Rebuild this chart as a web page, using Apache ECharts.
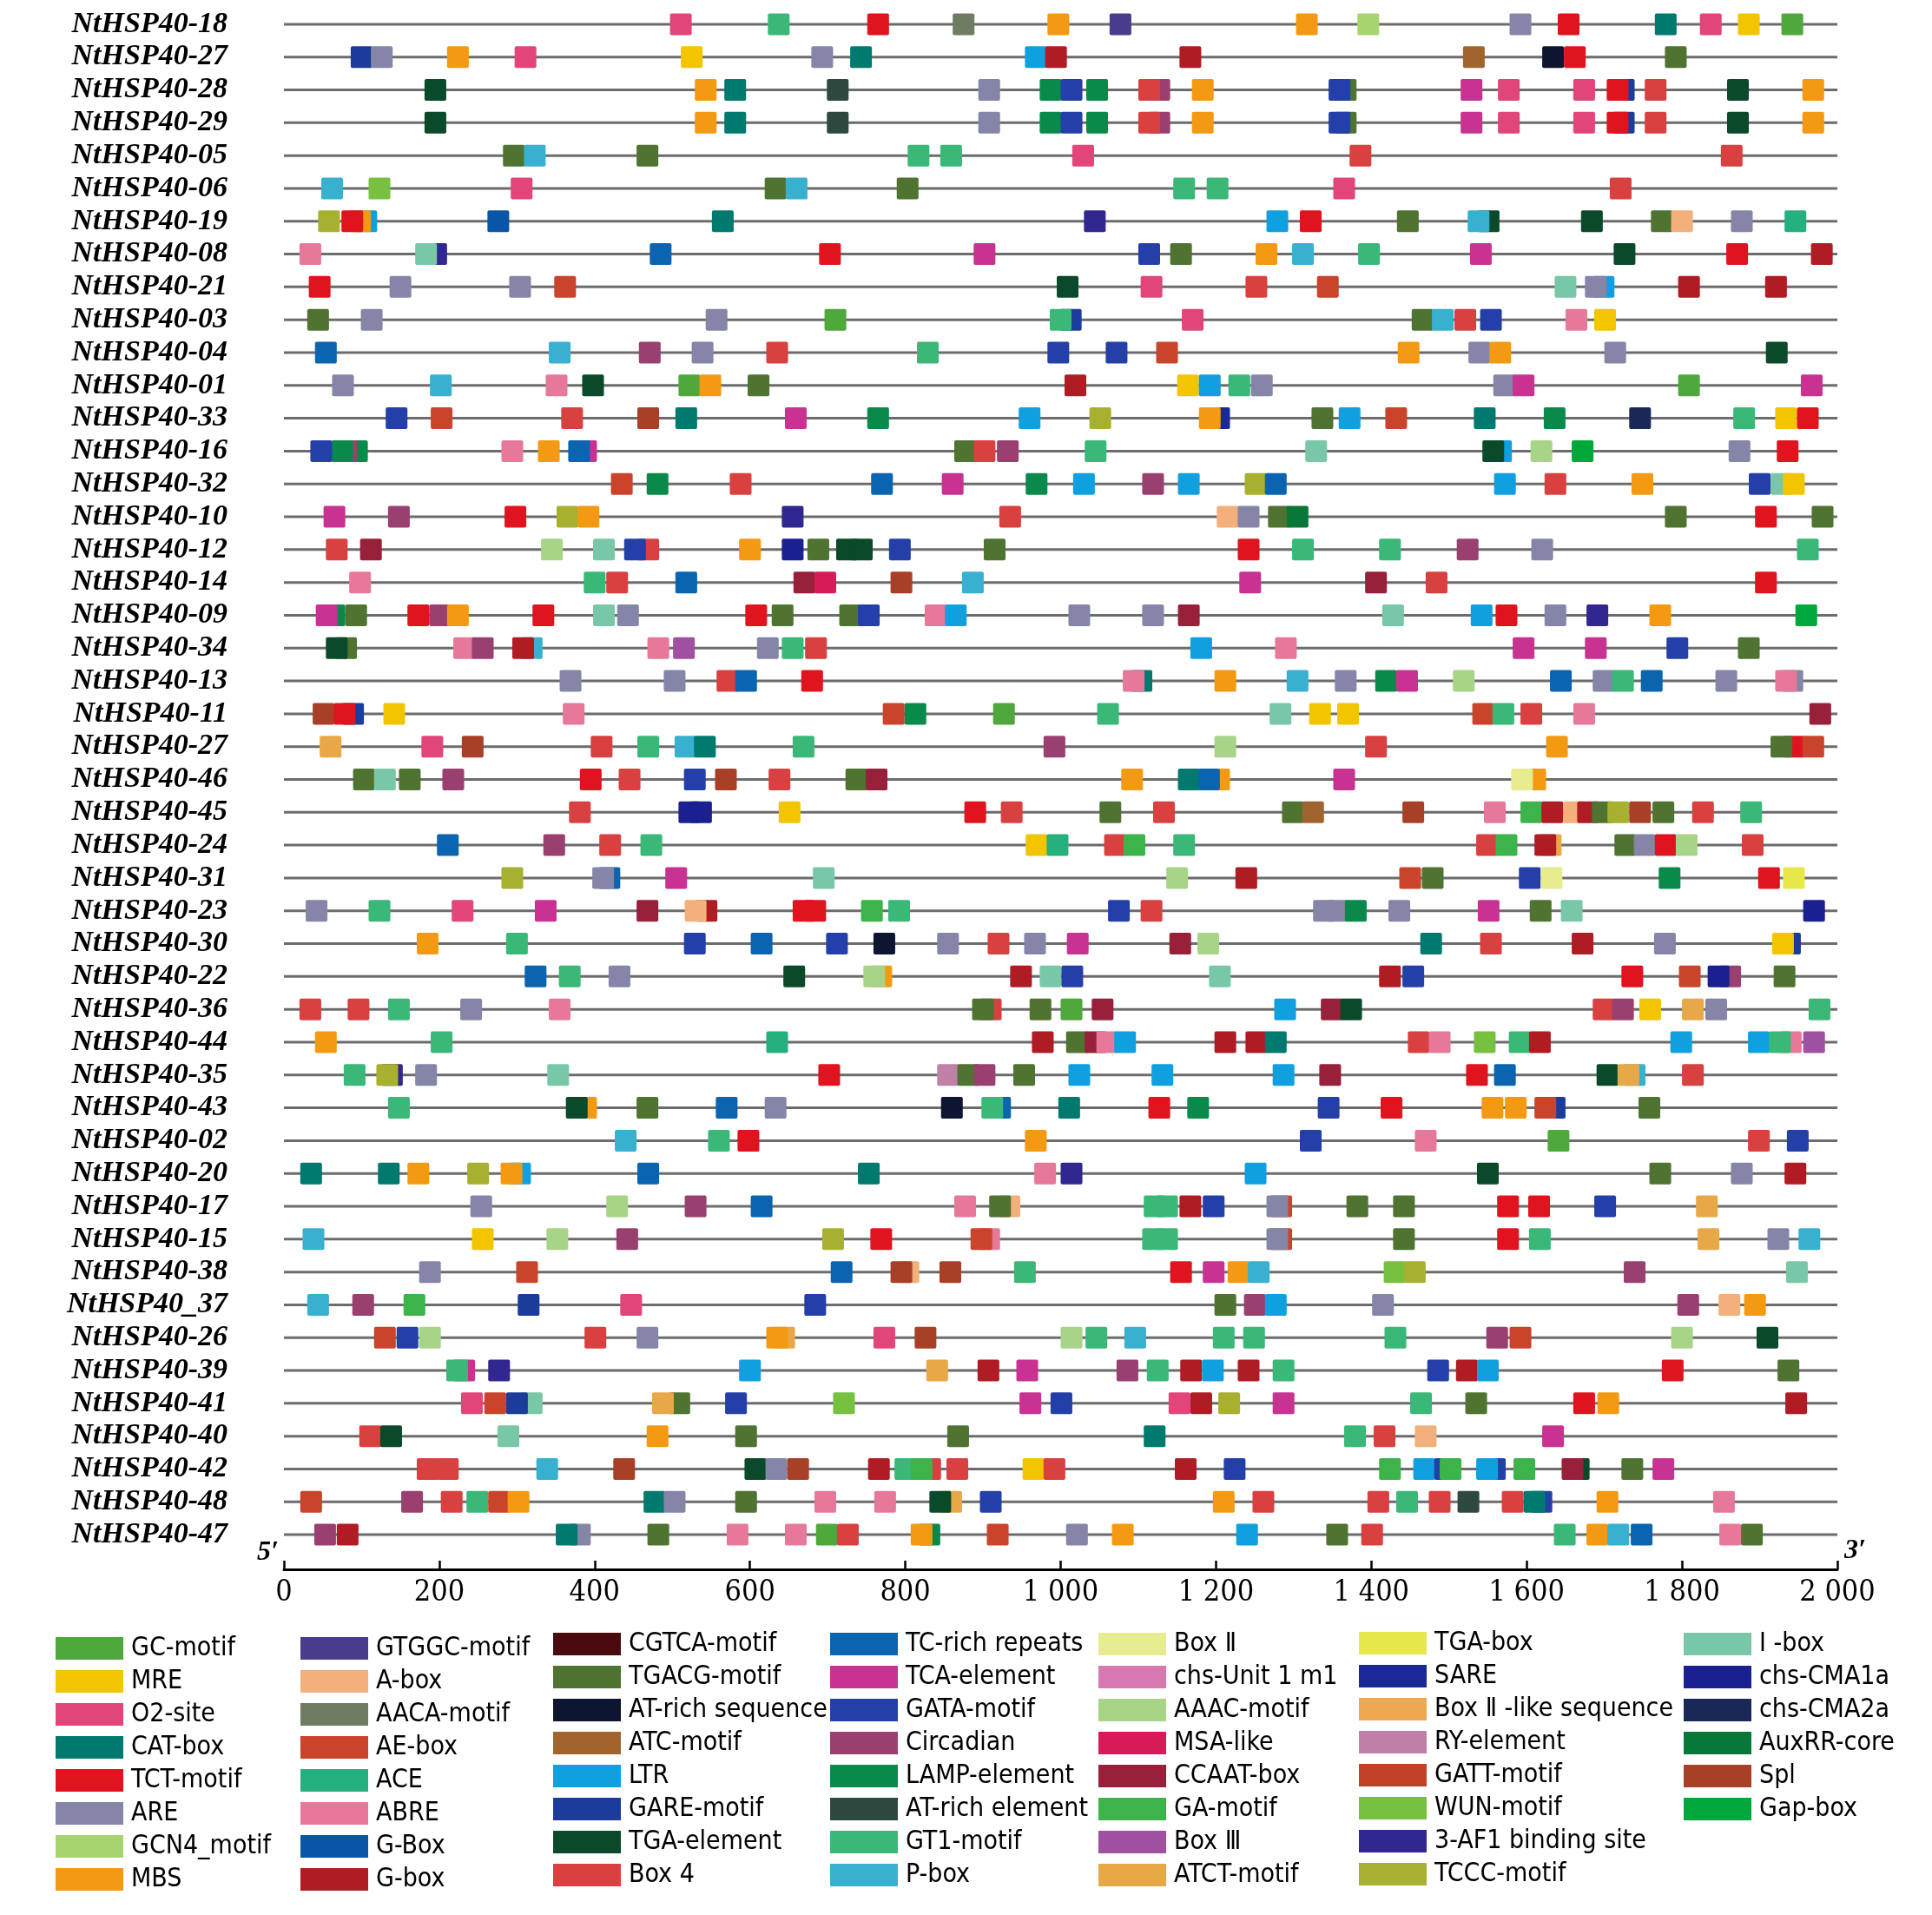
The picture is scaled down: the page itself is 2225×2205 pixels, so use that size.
<!DOCTYPE html>
<html><head><meta charset="utf-8">
<script src="https://cdn.jsdelivr.net/npm/echarts@6/dist/echarts.min.js"></script>
<style>html,body{margin:0;padding:0;background:#fff}#c{width:2225px;height:2205px}</style>
</head><body><div id="c"></div>
<script>
// ---------- data ----------
const genes = ['NtHSP40-18','NtHSP40-27','NtHSP40-28','NtHSP40-29','NtHSP40-05','NtHSP40-06','NtHSP40-19','NtHSP40-08','NtHSP40-21','NtHSP40-03',
'NtHSP40-04','NtHSP40-01','NtHSP40-33','NtHSP40-16','NtHSP40-32','NtHSP40-10','NtHSP40-12','NtHSP40-14','NtHSP40-09','NtHSP40-34',
'NtHSP40-13','NtHSP40-11','NtHSP40-27','NtHSP40-46','NtHSP40-45','NtHSP40-24','NtHSP40-31','NtHSP40-23','NtHSP40-30','NtHSP40-22',
'NtHSP40-36','NtHSP40-44','NtHSP40-35','NtHSP40-43','NtHSP40-02','NtHSP40-20','NtHSP40-17','NtHSP40-15','NtHSP40-38','NtHSP40_37',
'NtHSP40-26','NtHSP40-39','NtHSP40-41','NtHSP40-40','NtHSP40-42','NtHSP40-48','NtHSP40-47'];

const elementCodes = ['GC','MRE','O2','CAT','TCT','ARE','GCN4','MBS',
'GTGGC','ABOX','AACA','AE','ACE','ABRE','GBOX','Gbox',
'CGTCA','TGACG','ATRS','ATC','LTR','GARE','TGAE','BOX4',
'TCR','TCA','GATA','CIRC','LAMP','ATRE','GT1','PBOX',
'BOX2','CHSU','AAAC','MSA','CCAAT','GA','BOX3','ATCT',
'TGAB','SARE','BOX2L','RY','GATT','WUN','AF1','TCCC',
'IBOX','CMA1','CMA2','AUX','SPL','GAP'];

const elementNames = ['GC-motif','MRE','O2-site','CAT-box','TCT-motif','ARE','GCN4_motif','MBS',
'GTGGC-motif','A-box','AACA-motif','AE-box','ACE','ABRE','G-Box','G-box',
'CGTCA-motif','TGACG-motif','AT-rich sequence','ATC-motif','LTR','GARE-motif','TGA-element','Box 4',
'TC-rich repeats','TCA-element','GATA-motif','Circadian','LAMP-element','AT-rich element','GT1-motif','P-box',
'Box Ⅱ','chs-Unit 1 m1','AAAC-motif','MSA-like','CCAAT-box','GA-motif','Box Ⅲ','ATCT-motif',
'TGA-box','SARE','Box Ⅱ -like sequence','RY-element','GATT-motif','WUN-motif','3-AF1 binding site','TCCC-motif',
'Ⅰ -box','chs-CMA1a','chs-CMA2a','AuxRR-core','Spl','Gap-box'];

const elementColors = ['#4ea83c','#f2c500','#e2457a','#007a6e','#e0141e','#8585a8','#a8d46f','#f39a12',
'#4a3b8c','#f3b07a','#6e7d62','#c9442a','#26b07e','#e6799a','#0a55a8','#b01c24',
'#4a0a0e','#4f7330','#0e1530','#a2642e','#10a0e0','#1c3c9c','#0a4a2a','#d94040',
'#0a64b0','#c83290','#2440a8','#9a4070','#0a8a4a','#2e4a40','#3ab878','#38b0d0',
'#e8ec90','#d878b0','#a8d488','#d81a58','#98203a','#3cb44a','#a050a0','#e8a848',
'#e8e84a','#1a2898','#f0a850','#c080a8','#c04028','#78c040','#302890','#a8b030',
'#78c8a8','#1a2090','#1a2858','#087838','#a84028','#00a83c'];

const legendColumnSizes = [8,8,8,8,8,8,6];
const seqLength = 2000;
const xTicks = [0,200,400,600,800,1000,1200,1400,1600,1800,2000];

// sites per gene: [start position (bp), element code]; list order = drawing order
const sites = [
[[497,'O2'],[623,'GT1'],[751,'TCT'],[861,'AACA'],[983,'MBS'],[1063,'GTGGC'],[1303,'MBS'],[1382,'GCN4'],[1578,'ARE'],[1640,'TCT'],[1765,'CAT'],[1823,'O2'],[1872,'MRE'],[1928,'GC']],
[[86,'GARE'],[112,'ARE'],[210,'MBS'],[297,'O2'],[511,'MRE'],[679,'ARE'],[729,'CAT'],[954,'LTR'],[980,'Gbox'],[1153,'Gbox'],[1518,'ATC'],[1620,'ATRS'],[1648,'TCT'],[1778,'TGACG']],
[[181,'TGAE'],[529,'MBS'],[567,'CAT'],[699,'ATRE'],[894,'ARE'],[973,'LAMP'],[1000,'GATA'],[1033,'LAMP'],[1113,'CIRC'],[1100,'BOX4'],[1169,'MBS'],[1353,'TGACG'],[1345,'GATA'],[1515,'TCA'],[1563,'O2'],[1660,'O2'],[1711,'GARE'],[1703,'TCT'],[1752,'BOX4'],[1858,'TGAE'],[1955,'MBS']],
[[181,'TGAE'],[529,'MBS'],[567,'CAT'],[699,'ATRE'],[894,'ARE'],[973,'LAMP'],[1000,'GATA'],[1033,'LAMP'],[1113,'CIRC'],[1100,'BOX4'],[1169,'MBS'],[1353,'TGACG'],[1345,'GATA'],[1515,'TCA'],[1563,'O2'],[1660,'O2'],[1711,'GARE'],[1703,'TCT'],[1752,'BOX4'],[1858,'TGAE'],[1955,'MBS']],
[[282,'TGACG'],[309,'PBOX'],[454,'TGACG'],[803,'GT1'],[845,'GT1'],[1015,'O2'],[1372,'BOX4'],[1850,'BOX4']],
[[48,'PBOX'],[109,'WUN'],[292,'O2'],[619,'TGACG'],[646,'PBOX'],[789,'TGACG'],[1145,'GT1'],[1188,'GT1'],[1351,'O2'],[1707,'BOX4']],
[[92,'LTR'],[84,'MBS'],[74,'TCT'],[44,'TCCC'],[262,'GBOX'],[551,'CAT'],[1030,'AF1'],[1265,'LTR'],[1308,'TCT'],[1433,'TGACG'],[1537,'TGAE'],[1524,'PBOX'],[1670,'TGAE'],[1760,'TGACG'],[1786,'ABOX'],[1863,'ARE'],[1932,'ACE']],
[[20,'ABRE'],[182,'AF1'],[169,'IBOX'],[471,'TCR'],[689,'TCT'],[888,'TCA'],[1100,'GATA'],[1141,'TGACG'],[1251,'MBS'],[1298,'PBOX'],[1383,'GT1'],[1527,'TCA'],[1712,'TGAE'],[1857,'TCT'],[1966,'Gbox']],
[[32,'TCT'],[136,'ARE'],[290,'ARE'],[348,'AE'],[995,'TGAE'],[1103,'O2'],[1238,'BOX4'],[1330,'AE'],[1636,'IBOX'],[1685,'LTR'],[1675,'ARE'],[1795,'Gbox'],[1907,'Gbox']],
[[30,'TGACG'],[99,'ARE'],[543,'ARE'],[696,'GC'],[999,'GARE'],[986,'GT1'],[1156,'O2'],[1452,'TGACG'],[1478,'PBOX'],[1507,'BOX4'],[1540,'GATA'],[1650,'ABRE'],[1687,'MRE']],
[[40,'TCR'],[341,'PBOX'],[457,'CIRC'],[525,'ARE'],[621,'BOX4'],[815,'GT1'],[983,'GATA'],[1058,'GATA'],[1123,'AE'],[1434,'MBS'],[1525,'ARE'],[1552,'MBS'],[1700,'ARE'],[1908,'TGAE']],
[[62,'ARE'],[188,'PBOX'],[337,'ABRE'],[384,'TGAE'],[508,'GC'],[535,'MBS'],[597,'TGACG'],[1005,'Gbox'],[1150,'MRE'],[1178,'LTR'],[1216,'GT1'],[1245,'ARE'],[1557,'ARE'],[1582,'TCA'],[1795,'GC'],[1953,'TCA']],
[[131,'GATA'],[189,'AE'],[357,'BOX4'],[455,'SPL'],[504,'CAT'],[645,'TCA'],[751,'LAMP'],[946,'LTR'],[1037,'TCCC'],[1190,'SARE'],[1178,'MBS'],[1323,'TGACG'],[1358,'LTR'],[1418,'AE'],[1532,'CAT'],[1622,'LAMP'],[1732,'CMA2'],[1866,'GT1'],[1920,'MRE'],[1948,'TCT']],
[[80,'LAMP'],[66,'CIRC'],[61,'LAMP'],[34,'GATA'],[280,'ABRE'],[327,'MBS'],[375,'TCA'],[366,'TCR'],[863,'TGACG'],[888,'BOX4'],[918,'CIRC'],[1031,'GT1'],[1315,'IBOX'],[1553,'LTR'],[1543,'TGAE'],[1605,'AAAC'],[1658,'GAP'],[1860,'ARE'],[1922,'TCT']],
[[421,'AE'],[467,'LAMP'],[574,'BOX4'],[756,'TCR'],[847,'TCA'],[955,'LAMP'],[1016,'LTR'],[1105,'CIRC'],[1151,'LTR'],[1237,'TCCC'],[1263,'TCR'],[1558,'LTR'],[1623,'BOX4'],[1735,'MBS'],[1886,'GATA'],[1914,'IBOX'],[1930,'MRE']],
[[51,'TCA'],[134,'CIRC'],[284,'TCT'],[351,'TCCC'],[378,'MBS'],[641,'AF1'],[921,'BOX4'],[1201,'ABOX'],[1228,'ARE'],[1267,'TGACG'],[1291,'AUX'],[1778,'TGACG'],[1894,'TCT'],[1967,'TGACG']],
[[54,'BOX4'],[98,'CCAAT'],[331,'AAAC'],[398,'IBOX'],[455,'BOX4'],[438,'GATA'],[586,'MBS'],[641,'CMA1'],[674,'TGACG'],[711,'TGAE'],[730,'TGAE'],[779,'GATA'],[901,'TGACG'],[1228,'TCT'],[1298,'GT1'],[1410,'GT1'],[1510,'CIRC'],[1606,'ARE'],[1948,'GT1']],
[[84,'ABRE'],[386,'GT1'],[415,'BOX4'],[504,'TCR'],[656,'CCAAT'],[683,'MSA'],[781,'SPL'],[873,'PBOX'],[1230,'TCA'],[1392,'CCAAT'],[1470,'BOX4'],[1894,'TCT']],
[[51,'LAMP'],[41,'TCA'],[79,'TGACG'],[159,'TCT'],[187,'CIRC'],[210,'MBS'],[320,'TCT'],[398,'IBOX'],[429,'ARE'],[594,'TCT'],[628,'TGACG'],[715,'TGACG'],[739,'GATA'],[825,'ABRE'],[851,'LTR'],[1010,'ARE'],[1105,'ARE'],[1151,'CCAAT'],[1414,'IBOX'],[1528,'LTR'],[1560,'TCT'],[1623,'ARE'],[1677,'AF1'],[1758,'MBS'],[1946,'GAP']],
[[66,'TGACG'],[54,'TGAE'],[218,'ABRE'],[242,'CIRC'],[305,'PBOX'],[294,'Gbox'],[468,'ABRE'],[501,'BOX3'],[609,'ARE'],[641,'GT1'],[671,'BOX4'],[1167,'LTR'],[1276,'ABRE'],[1582,'TCA'],[1675,'TCA'],[1780,'GATA'],[1872,'TGACG']],
[[355,'ARE'],[489,'ARE'],[557,'BOX4'],[581,'TCR'],[666,'TCT'],[1090,'CAT'],[1080,'ABRE'],[1198,'MBS'],[1291,'PBOX'],[1353,'ARE'],[1405,'LAMP'],[1432,'TCA'],[1505,'AAAC'],[1630,'TCR'],[1685,'ARE'],[1710,'GT1'],[1747,'TCR'],[1843,'ARE'],[1928,'ARE'],[1920,'ABRE']],
[[37,'SPL'],[75,'GARE'],[64,'TCT'],[128,'MRE'],[359,'ABRE'],[771,'AE'],[799,'LAMP'],[913,'GC'],[1047,'GT1'],[1269,'IBOX'],[1320,'MRE'],[1356,'MRE'],[1530,'AE'],[1556,'GT1'],[1592,'BOX4'],[1660,'ABRE'],[1964,'CCAAT']],
[[46,'ATCT'],[177,'O2'],[229,'SPL'],[395,'BOX4'],[455,'GT1'],[503,'PBOX'],[528,'CAT'],[655,'GT1'],[978,'CIRC'],[1198,'AAAC'],[1392,'BOX4'],[1625,'MBS'],[1930,'TCT'],[1914,'TGACG'],[1955,'AE']],
[[89,'TGACG'],[116,'IBOX'],[148,'TGACG'],[204,'CIRC'],[381,'TCT'],[431,'BOX4'],[515,'GATA'],[555,'SPL'],[624,'BOX4'],[723,'TGACG'],[749,'CCAAT'],[1078,'MBS'],[1190,'MBS'],[1151,'CAT'],[1177,'TCR'],[1351,'TCA'],[1597,'MBS'],[1580,'BOX2']],
[[367,'BOX4'],[508,'CMA1'],[523,'CMA1'],[637,'MRE'],[876,'TCT'],[923,'BOX4'],[1050,'TGACG'],[1119,'BOX4'],[1285,'TGACG'],[1311,'ATC'],[1440,'SPL'],[1545,'ABRE'],[1592,'GA'],[1619,'Gbox'],[1647,'ABOX'],[1665,'Gbox'],[1684,'TGACG'],[1704,'TCCC'],[1732,'SPL'],[1762,'TGACG'],[1813,'BOX4'],[1875,'GT1']],
[[197,'TCR'],[334,'CIRC'],[406,'BOX4'],[459,'GT1'],[955,'MRE'],[982,'ACE'],[1056,'BOX4'],[1081,'GA'],[1145,'GT1'],[1535,'BOX4'],[1560,'GA'],[1617,'ATCT'],[1610,'Gbox'],[1713,'TGACG'],[1738,'ARE'],[1765,'TCT'],[1792,'AAAC'],[1877,'BOX4']],
[[280,'TCCC'],[405,'TCR'],[397,'ARE'],[491,'TCA'],[681,'IBOX'],[1136,'AAAC'],[1225,'Gbox'],[1436,'AE'],[1465,'TGACG'],[1590,'GATA'],[1618,'BOX2'],[1770,'LAMP'],[1898,'TCT'],[1930,'TGAB']],
[[28,'ARE'],[109,'GT1'],[216,'O2'],[323,'TCA'],[454,'CCAAT'],[530,'Gbox'],[516,'ABOX'],[655,'TCT'],[670,'TCT'],[743,'GA'],[778,'GT1'],[1061,'GATA'],[1103,'BOX4'],[1325,'ARE'],[1342,'ARE'],[1366,'LAMP'],[1422,'ARE'],[1537,'TCA'],[1604,'TGACG'],[1644,'IBOX'],[1956,'CMA1']],
[[171,'MBS'],[286,'GT1'],[515,'GATA'],[601,'TCR'],[698,'GATA'],[759,'ATRS'],[841,'ARE'],[906,'BOX4'],[953,'ARE'],[1008,'TCA'],[1140,'CCAAT'],[1176,'AAAC'],[1463,'CAT'],[1540,'BOX4'],[1658,'Gbox'],[1764,'ARE'],[1925,'GARE'],[1916,'MRE']],
[[310,'TCR'],[354,'GT1'],[418,'ARE'],[643,'TGAE'],[755,'MBS'],[746,'AAAC'],[935,'Gbox'],[973,'IBOX'],[1001,'GATA'],[1191,'IBOX'],[1410,'Gbox'],[1440,'GATA'],[1722,'TCT'],[1796,'AE'],[1848,'CIRC'],[1833,'CMA1'],[1918,'TGACG']],
[[20,'BOX4'],[82,'BOX4'],[134,'GT1'],[227,'ARE'],[341,'ABRE'],[896,'BOX4'],[886,'TGACG'],[960,'TGACG'],[1000,'GC'],[1040,'CCAAT'],[1275,'LTR'],[1335,'CCAAT'],[1360,'TGAE'],[1685,'BOX4'],[1710,'CIRC'],[1745,'MRE'],[1800,'ATCT'],[1830,'ARE'],[1963,'GT1']],
[[40,'MBS'],[189,'GT1'],[621,'ACE'],[963,'Gbox'],[1007,'TGACG'],[1031,'CCAAT'],[1046,'ABRE'],[1069,'LTR'],[1198,'Gbox'],[1238,'Gbox'],[1263,'CAT'],[1447,'BOX4'],[1474,'ABRE'],[1532,'WUN'],[1577,'GT1'],[1603,'Gbox'],[1785,'LTR'],[1885,'LTR'],[1926,'ABRE'],[1912,'GT1'],[1956,'BOX3']],
[[77,'GT1'],[125,'AF1'],[119,'TCCC'],[169,'ARE'],[339,'IBOX'],[688,'TCT'],[841,'RY'],[867,'TGACG'],[888,'CIRC'],[939,'TGACG'],[1010,'LTR'],[1117,'LTR'],[1273,'LTR'],[1333,'CCAAT'],[1522,'TCT'],[1558,'TCR'],[1690,'TGAE'],[1725,'PBOX'],[1717,'ATCT'],[1800,'BOX4']],
[[134,'GT1'],[375,'MBS'],[363,'TGAE'],[454,'TGACG'],[556,'TCR'],[619,'ARE'],[846,'ATRS'],[908,'TCR'],[898,'GT1'],[997,'CAT'],[1113,'TCT'],[1163,'LAMP'],[1331,'GATA'],[1412,'TCT'],[1542,'MBS'],[1572,'MBS'],[1622,'GARE'],[1610,'AE'],[1744,'TGACG']],
[[426,'PBOX'],[546,'GT1'],[584,'TCT'],[954,'MBS'],[1308,'GATA'],[1456,'ABRE'],[1627,'GC'],[1885,'BOX4'],[1935,'GATA']],
[[21,'CAT'],[121,'CAT'],[159,'MBS'],[236,'TCCC'],[290,'LTR'],[279,'MBS'],[455,'TCR'],[739,'CAT'],[966,'ABRE'],[1000,'AF1'],[1237,'LTR'],[1536,'TGAE'],[1758,'TGACG'],[1863,'ARE'],[1932,'Gbox']],
[[240,'ARE'],[415,'AAAC'],[516,'CIRC'],[601,'TCR'],[863,'ABRE'],[920,'ABOX'],[908,'TGACG'],[1107,'GT1'],[1123,'GT1'],[1153,'Gbox'],[1183,'GATA'],[1270,'AE'],[1265,'ARE'],[1368,'TGACG'],[1428,'TGACG'],[1562,'TCT'],[1602,'TCT'],[1687,'GATA'],[1818,'ATCT']],
[[24,'PBOX'],[242,'MRE'],[338,'AAAC'],[428,'CIRC'],[693,'TCCC'],[755,'TCT'],[894,'ABRE'],[884,'AE'],[1105,'GT1'],[1123,'GT1'],[1270,'AE'],[1265,'ARE'],[1428,'TGACG'],[1562,'TCT'],[1603,'GT1'],[1820,'ATCT'],[1910,'ARE'],[1950,'PBOX']],
[[174,'ARE'],[299,'AE'],[704,'TCR'],[790,'ABOX'],[781,'SPL'],[844,'SPL'],[940,'GT1'],[1141,'TCT'],[1183,'TCA'],[1215,'MBS'],[1241,'PBOX'],[1416,'WUN'],[1442,'TCCC'],[1725,'CIRC'],[1934,'IBOX']],
[[30,'PBOX'],[88,'CIRC'],[154,'GA'],[301,'GARE'],[433,'O2'],[670,'GATA'],[1198,'TGACG'],[1236,'CIRC'],[1263,'LTR'],[1401,'ARE'],[1794,'CIRC'],[1847,'ABOX'],[1880,'MBS']],
[[116,'AE'],[145,'GATA'],[174,'AAAC'],[387,'BOX4'],[454,'ARE'],[630,'ATCT'],[621,'MBS'],[759,'O2'],[812,'SPL'],[1000,'AAAC'],[1032,'GT1'],[1082,'PBOX'],[1196,'GT1'],[1235,'GT1'],[1417,'GT1'],[1548,'CIRC'],[1578,'AE'],[1786,'AAAC'],[1896,'TGAE']],
[[218,'TCA'],[209,'GT1'],[263,'AF1'],[586,'LTR'],[827,'ATCT'],[893,'Gbox'],[943,'TCA'],[1072,'CIRC'],[1111,'GT1'],[1154,'Gbox'],[1182,'LTR'],[1228,'Gbox'],[1273,'GT1'],[1472,'GATA'],[1509,'Gbox'],[1536,'LTR'],[1774,'TCT'],[1923,'TGACG']],
[[305,'IBOX'],[228,'O2'],[258,'AE'],[286,'GARE'],[495,'TGACG'],[474,'ATCT'],[568,'GATA'],[707,'WUN'],[947,'TCA'],[987,'GATA'],[1139,'O2'],[1167,'Gbox'],[1203,'TCCC'],[1273,'TCA'],[1450,'GT1'],[1521,'TGACG'],[1660,'TCT'],[1691,'MBS'],[1933,'Gbox']],
[[97,'BOX4'],[124,'TGAE'],[275,'IBOX'],[467,'MBS'],[581,'TGACG'],[854,'TGACG'],[1107,'CAT'],[1365,'GT1'],[1403,'BOX4'],[1456,'ABOX'],[1620,'TCA']],
[[171,'BOX4'],[197,'BOX4'],[325,'PBOX'],[424,'SPL'],[593,'TGAE'],[620,'ARE'],[648,'SPL'],[752,'Gbox'],[818,'BOX4'],[786,'GT1'],[807,'GA'],[853,'BOX4'],[951,'MRE'],[978,'BOX4'],[1147,'Gbox'],[1210,'GATA'],[1410,'GA'],[1454,'LTR'],[1481,'GATA'],[1488,'GA'],[1545,'GATA'],[1535,'LTR'],[1583,'GA'],[1653,'TGAE'],[1645,'CCAAT'],[1722,'TGACG'],[1762,'TCA']],
[[21,'AE'],[151,'CIRC'],[202,'BOX4'],[235,'GT1'],[263,'AE'],[288,'MBS'],[463,'CAT'],[489,'ARE'],[581,'TGACG'],[683,'ABRE'],[760,'ABRE'],[845,'ATCT'],[831,'TGAE'],[896,'GATA'],[1196,'MBS'],[1247,'BOX4'],[1395,'BOX4'],[1432,'GT1'],[1474,'BOX4'],[1511,'ATRE'],[1605,'GATA'],[1568,'BOX4'],[1596,'CAT'],[1690,'MBS'],[1840,'ABRE']],
[[39,'CIRC'],[68,'Gbox'],[367,'ARE'],[350,'CAT'],[468,'TGACG'],[570,'ABRE'],[645,'ABRE'],[685,'GC'],[712,'BOX4'],[817,'LAMP'],[807,'MBS'],[905,'AE'],[1007,'ARE'],[1066,'MBS'],[1226,'LTR'],[1342,'TGACG'],[1387,'BOX4'],[1635,'GT1'],[1677,'MBS'],[1704,'PBOX'],[1734,'TCR'],[1848,'ABRE'],[1876,'TGACG']]
];

// ---------- build ----------
const BOX_BP = 28, BOX_H = 25;
const seriesData = elementCodes.map(() => []);
sites.forEach((row, ri) => {
  row.forEach((s, k) => {
    const ei = elementCodes.indexOf(s[1]);
    if (ei >= 0) seriesData[ei].push([s[0], ri, k]);
  });
});

function renderBox(params, api) {
  const p = api.coord([api.value(0), api.value(1)]);
  const w = api.size([BOX_BP, 0])[0];
  return {
    type: 'rect',
    shape: { x: p[0], y: p[1] - BOX_H / 2, width: w, height: BOX_H, r: 2 },
    style: { fill: api.visual('color') },
    z2: 10 + api.value(2)
  };
}

const series = [{
  type: 'custom', name: 'backbone', silent: true, z: 1,
  data: genes.map((g, i) => [0, i]),
  encode: { x: 0, y: 1 },
  renderItem: (params, api) => {
    const a = api.coord([0, api.value(1)]), b = api.coord([seqLength, api.value(1)]);
    return { type: 'line', shape: { x1: a[0], y1: a[1], x2: b[0], y2: b[1] }, style: { stroke: '#6c6c6c', lineWidth: 3 } };
  }
}];
elementCodes.forEach((c, i) => {
  series.push({
    type: 'custom', name: elementNames[i], z: 2,
    itemStyle: { color: elementColors[i] },
    data: seriesData[i], encode: { x: 0, y: 1 },
    renderItem: renderBox
  });
});

const LEG_FONT = 30;
const LEG_X = [64, 346, 637, 956, 1265, 1565, 1939];
const LEG_Y = [1883, 1883, 1878, 1878, 1878, 1877, 1878];
const legends = [];
let off = 0;
legendColumnSizes.forEach((n, ci) => {
  legends.push({
    orient: 'vertical', left: LEG_X[ci], top: LEG_Y[ci], height: 320, padding: 0,
    itemWidth: 78, itemHeight: 26, itemGap: 38 - LEG_FONT, icon: 'rect', selectedMode: false,
    data: elementNames.slice(off, off + n),
    textStyle: { fontFamily: '"DejaVu Sans Condensed", "DejaVu Sans", sans-serif', fontSize: LEG_FONT, color: '#000', padding: [0, 0, 0, 4] }
  });
  off += n;
});

const chart = echarts.init(document.getElementById('c'));
chart.setOption({
  animation: false,
  backgroundColor: '#fff',
  grid: { left: 327, right: 109, top: 9, bottom: 419, containLabel: false },
  xAxis: {
    type: 'value', min: xTicks[0], max: xTicks[xTicks.length - 1], interval: xTicks[1] - xTicks[0],
    position: 'bottom', offset: 21,
    axisLine: { show: true, lineStyle: { color: '#000', width: 3 } },
    axisTick: { show: true, inside: true, length: 10, lineStyle: { color: '#000', width: 2.5 } },
    splitLine: { show: false },
    axisLabel: {
      margin: 10, color: '#000', fontSize: 34, fontFamily: '"DejaVu Serif Condensed", "DejaVu Serif", serif',
      formatter: v => v >= 1000 ? String(v).replace(/(\d)(\d{3})$/, '$1 $2') : String(v)
    }
  },
  yAxis: {
    type: 'category', data: genes, inverse: true,
    axisLine: { show: false }, axisTick: { show: false }, splitLine: { show: false },
    axisLabel: { interval: 0, margin: 65, color: '#000', fontSize: 34, fontStyle: 'italic', fontWeight: 'bold', fontFamily: '"Liberation Serif", serif' }
  },
  legend: legends,
  graphic: [
    { type: 'text', left: 296, top: 1772, style: { text: '5′', font: 'italic bold 32px "Liberation Serif"', fill: '#000' } },
    { type: 'text', left: 2124, top: 1770, style: { text: '3′', font: 'italic bold 32px "Liberation Serif"', fill: '#000' } }
  ],
  series: series
});
</script>
</body></html>
